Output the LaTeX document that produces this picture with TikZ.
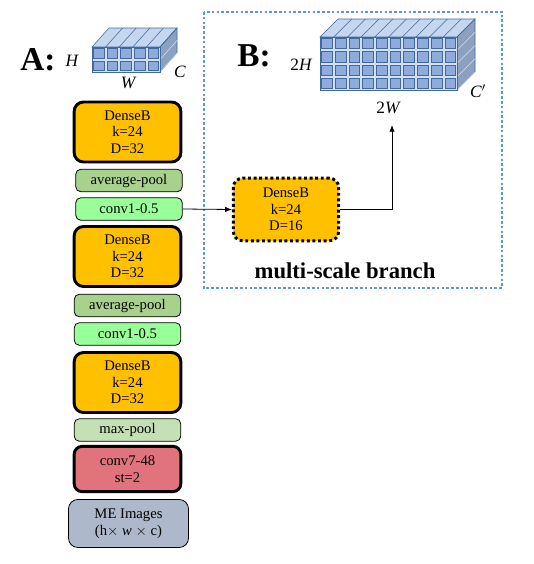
\documentclass[tikz,border=0pt]{standalone}
\usepackage{fontspec}
\setmainfont{Liberation Serif}
\usetikzlibrary{arrows.meta}

\definecolor{denseorange}{HTML}{FFC000}
\definecolor{avgpoolgreen}{HTML}{A9D18E}
\definecolor{convgreen}{HTML}{99FF99}
\definecolor{maxpoolgreen}{HTML}{C5E0B4}
\definecolor{convred}{HTML}{E0737C}
\definecolor{inputgray}{HTML}{ADB9CA}
\definecolor{frameblue}{HTML}{5B9BD5}
\definecolor{cellblue}{HTML}{8FAADC}
\definecolor{cellline}{HTML}{41699E}
\definecolor{frontblue}{HTML}{D3E0F2}
\definecolor{topblue}{HTML}{C4D7EF}
\definecolor{sideblue}{HTML}{8CA1BF}

% feature cube: x0, y0, cols, rows, cell w, cell h, dx, dy
\newcommand{\featcube}[8]{%
  \draw[fill=topblue, draw=cellline] (#1,#2) -- ++(#7,-#8) -- ++({#3*#5},0) -- ++(-#7,#8) -- cycle;
  \draw[fill=sideblue, draw=cellline] ({#1+#3*#5},#2) -- ++(#7,-#8) -- ++(0,{#4*#6}) -- ++(-#7,#8) -- cycle;
  \foreach \i in {1,...,#3} {\draw[cellline] ({#1+\i*#5},#2) -- ++(#7,-#8);}
  \foreach \j in {1,...,#4} {\draw[frontblue] ({#1+#3*#5},{#2+\j*#6}) -- ++(#7,-#8);}
  \draw[fill=frontblue, draw=cellline] (#1,#2) rectangle ++({#3*#5},{#4*#6});
  \foreach \i in {0,...,\numexpr#3-1\relax} {
    \foreach \j in {0,...,\numexpr#4-1\relax} {
      \draw[fill=cellblue, draw=cellline] ({#1+\i*#5+1.5},{#2+\j*#6+1.5}) rectangle ++({#5-3},{#6-3});
    }
  }
}

\tikzset{
  layer/.style={draw, rounded corners=4pt, align=center, inner sep=1pt,
    minimum width=80pt, font=\fontsize{11}{12.5}\selectfont},
  denseblk/.style={layer, fill=denseorange, line width=2.2pt, rounded corners=7pt, minimum height=45pt},
  thinblk/.style={layer, line width=0.6pt, minimum height=17pt},
  dimlabel/.style={font=\itshape\fontsize{13}{13}\selectfont},
  panellabel/.style={font=\bfseries\fontsize{25}{25}\selectfont},
}

\begin{document}
\begin{tikzpicture}[x=0.75pt,y=0.75pt,yscale=-1,xscale=1]
\useasboundingbox (0,0) rectangle (534,564);

% panel B frame
\draw[frameblue, line width=2pt, dash pattern=on 2pt off 1.6pt] (204,12) rectangle (502,288);

% cubes
\featcube{92}{47}{5}{2}{13.6}{12.5}{17}{19}
\featcube{320}{37}{10}{4}{13.7}{13.25}{18}{18}

% labels of cubes
\node[panellabel] (labA) at (38,60) {A:};
\node[dimlabel] (labH) at (72,61) {H};
\node[dimlabel] (labW) at (128,83) {W};
\node[dimlabel] (labC) at (180,72) {C};
\node[panellabel] (labB) at (254,56) {B:};
\node[dimlabel] (lab2H) at (301,65) {\upshape 2\itshape H};
\node[dimlabel] (lab2W) at (388,108) {\upshape 2\itshape W};
\node[dimlabel] (labCp) at (478,91) {C$'$};

% main stream
\node[denseblk] (dense1) at (127.5,132) {DenseB\\k=24\\D=32};
\node[thinblk, fill=avgpoolgreen] (avg1) at (129,180.5) {average-pool};
\node[thinblk, fill=convgreen] (conva) at (129,209) {conv1-0.5};
\node[denseblk] (dense2) at (127.5,256.5) {DenseB\\k=24\\D=32};
\node[thinblk, fill=avgpoolgreen] (avg2) at (127.5,305.5) {average-pool};
\node[thinblk, fill=convgreen] (convb) at (127.5,334) {conv1-0.5};
\node[denseblk] (dense3) at (127.5,382.5) {DenseB\\k=24\\D=32};
\node[thinblk, fill=maxpoolgreen] (maxp) at (127.5,430) {max-pool};
\node[layer, fill=convred, line width=2.2pt, rounded corners=6pt, minimum height=34pt] (conv7) at (127.5,469) {conv7-48\\st=2};
\node[layer, fill=inputgray, line width=0.6pt, rounded corners=7pt, minimum width=90pt, minimum height=36pt] (meimg) at (128.5,523.5) {ME Images\\(h$\times$ \textit{w} $\times$ c)};

% multi-scale branch
\node[denseblk, dotted, minimum width=79pt, minimum height=47pt] (densebr) at (286,209.5) {DenseB\\k=24\\D=16};
\node[font=\bfseries\fontsize{17}{17}\selectfont] (brlabel) at (345,271) {multi-scale branch};
\coordinate (up2W) at (392,125);

\draw[-{Latex[length=5pt,width=4pt]}, line width=0.6pt] (conva.east) -- (densebr.west);
\draw[-{Latex[length=5pt,width=4pt]}, line width=0.6pt] (densebr.east) -| (up2W);
\end{tikzpicture}
\end{document}
